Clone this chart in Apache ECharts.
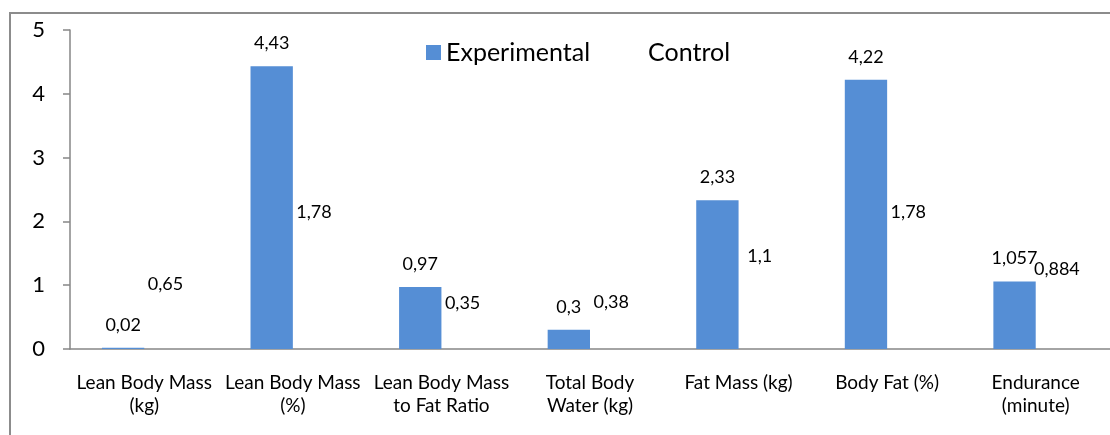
<!DOCTYPE html>
<html>
<head>
<meta charset="utf-8">
<script src="https://cdn.jsdelivr.net/npm/echarts@6/dist/echarts.min.js"></script>
<style>
  html, body { margin: 0; padding: 0; background: #fff; }
  #chart { width: 1110px; height: 435px; }
</style>
</head>
<body>
<div id="chart"></div>
<script>
var categories = [
  'Lean Body Mass\n(kg)',
  'Lean Body Mass\n(%)',
  'Lean Body Mass\nto Fat Ratio',
  'Total Body\nWater (kg)',
  'Fat Mass (kg)',
  'Body Fat (%)',
  'Endurance\n(minute)'
];
var experimental = [0.02, 4.43, 0.97, 0.3, 2.33, 4.22, 1.057];
var control = [0.65, 1.78, 0.35, 0.38, 1.1, 1.78, 0.884];
var yTicks = [0, 1, 2, 3, 4, 5];

var chart = echarts.init(document.getElementById('chart'));
var font = 'Lato';

function commaLabel(p) {
  return String(p.value).replace('.', ',');
}

var option = {
  backgroundColor: '#fff',
  animation: false,
  textStyle: { fontFamily: font },
  graphic: [{
    type: 'rect',
    shape: { x: 10, y: 13, width: 1300, height: 600 },
    style: { fill: 'none', stroke: '#8c8c8c', lineWidth: 2 },
    silent: true
  }],
  legend: {
    left: 421,
    top: 35,
    itemWidth: 15,
    itemHeight: 15,
    itemGap: 38,
    icon: 'rect',
    textStyle: { fontFamily: font, fontSize: 25, color: '#000' },
    data: ['Experimental', 'Control']
  },
  grid: { left: 70, top: 30, width: 1054, height: 319 },
  xAxis: {
    type: 'category',
    data: categories,
    axisLine: { lineStyle: { color: '#868686', width: 1.5 } },
    axisTick: { length: 7, lineStyle: { color: '#868686', width: 1.5 } },
    axisLabel: {
      interval: 0,
      margin: 22,
      color: '#000',
      fontFamily: font,
      fontSize: 19,
      lineHeight: 23
    }
  },
  yAxis: {
    type: 'value',
    min: yTicks[0],
    max: yTicks[yTicks.length - 1],
    interval: 1,
    splitLine: { show: false },
    axisLine: { show: true, lineStyle: { color: '#868686', width: 1.5 } },
    axisTick: { show: true, length: 7, lineStyle: { color: '#868686', width: 1.5 } },
    axisLabel: { margin: 25, color: '#000', fontFamily: font, fontSize: 22 }
  },
  series: [
    {
      name: 'Experimental',
      type: 'bar',
      data: experimental,
      barGap: '0%',
      barCategoryGap: '43%',
      itemStyle: { color: '#558ED5' },
      label: {
        show: true,
        position: 'top',
        distance: 14,
        color: '#000',
        fontFamily: font,
        fontSize: 18,
        formatter: commaLabel
      }
    },
    {
      name: 'Control',
      type: 'bar',
      data: control,
      itemStyle: { color: 'rgba(255,255,255,0)' },
      label: {
        show: true,
        position: 'top',
        distance: 14,
        color: '#000',
        fontFamily: font,
        fontSize: 18,
        formatter: commaLabel
      }
    }
  ]
};

chart.setOption(option);
window.addEventListener('resize', chart.resize);
</script>
</body>
</html>
